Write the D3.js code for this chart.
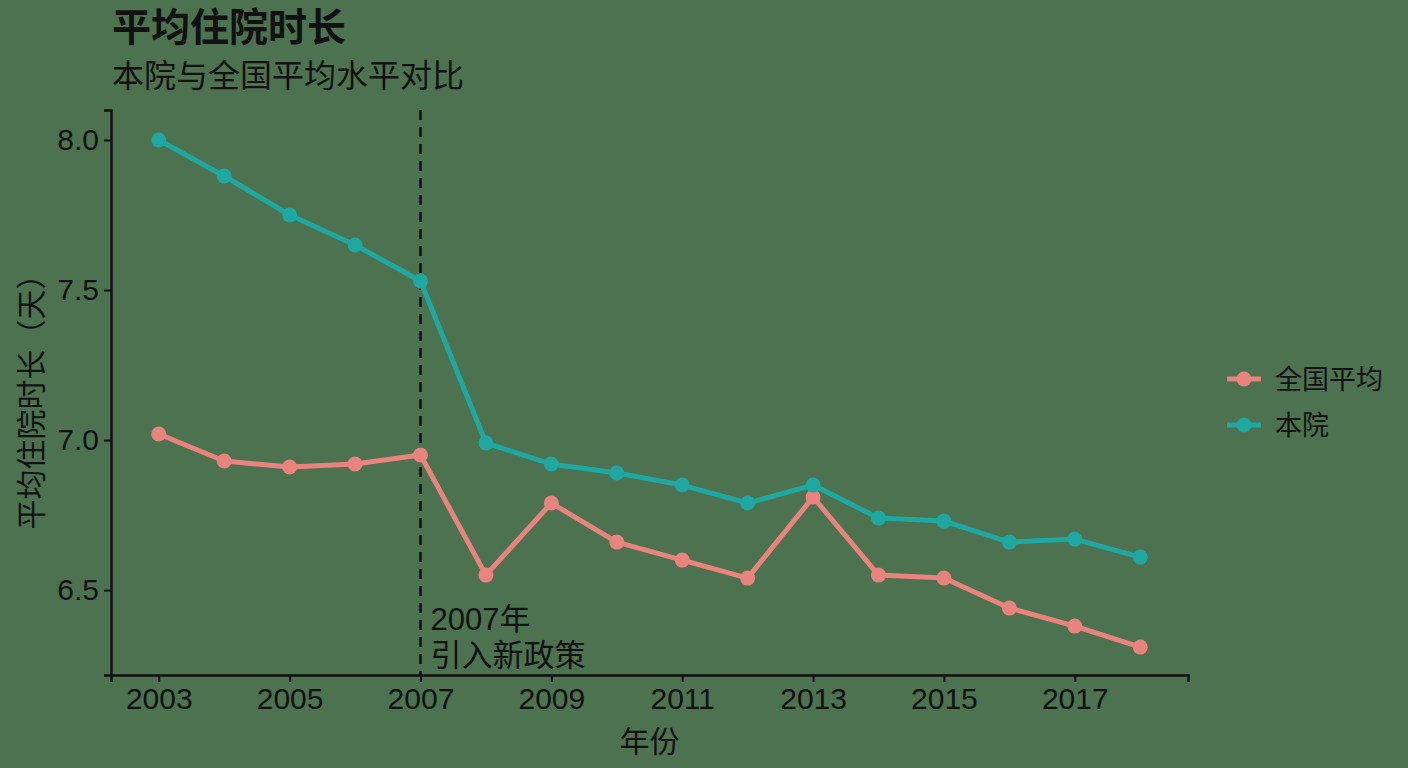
<!DOCTYPE html>
<html>
<head>
<meta charset="utf-8">
<script src="https://cdn.jsdelivr.net/npm/d3@7"></script>
<style>
  html, body { margin: 0; padding: 0; background: #4c7250; }
</style>
</head>
<body>
<div id="chart"></div>
<script>
// data
const years = [2003, 2004, 2005, 2006, 2007, 2008, 2009, 2010, 2011, 2012, 2013, 2014, 2015, 2016, 2017, 2018]
const hospital = [8.00, 7.88, 7.75, 7.65, 7.53, 6.99, 6.92, 6.89, 6.85, 6.79, 6.85, 6.74, 6.73, 6.66, 6.67, 6.61]
const national = [7.02, 6.93, 6.91, 6.92, 6.95, 6.55, 6.79, 6.66, 6.60, 6.54, 6.81, 6.55, 6.54, 6.44, 6.38, 6.31]
const xTicks = [2003, 2005, 2007, 2009, 2011, 2013, 2015, 2017]
const yTicks = [6.5, 7.0, 7.5, 8.0]
const seriesNames = ["全国平均", "本院"]
const policyYear = 2007

const width = 1408, height = 768
const margin = { top: 110, right: 220, bottom: 93, left: 111 }
const colors = { "全国平均": "#e8837e", "本院": "#1fa7a1" }
const font = '"Liberation Sans", "Noto Sans CJK SC", sans-serif'
const ink = '#111'

const series = [
    { name: "全国平均", values: national },
    { name: "本院", values: hospital }
]

const x = d3.scaleLinear()
    .domain([2002.27, 2018.73])
    .range([margin.left, width - margin.right])

const y = d3.scaleLinear()
    .domain([6.217, 8.1])
    .range([height - margin.bottom, margin.top])

const svg = d3.select('#chart')
    .append('svg')
    .attr('width', width)
    .attr('height', height)
    .attr('font-family', font)
    .attr('fill', ink)

svg.append('rect')
    .attr('width', width)
    .attr('height', height)
    .attr('fill', '#4c7250')

// titles
svg.append('text')
    .attr('x', 112).attr('y', 41)
    .attr('font-size', 39).attr('font-weight', 'bold')
    .text('平均住院时长')

svg.append('text')
    .attr('x', 112).attr('y', 87)
    .attr('font-size', 32)
    .text('本院与全国平均水平对比')

// policy marker
svg.append('line')
    .attr('x1', x(policyYear)).attr('x2', x(policyYear))
    .attr('y1', margin.top).attr('y2', height - margin.bottom)
    .attr('stroke', ink)
    .attr('stroke-width', 2.5)
    .attr('stroke-dasharray', '10,7')

const note = svg.append('text')
    .attr('font-size', 31)
note.append('tspan').attr('x', x(policyYear) + 10).attr('y', 630).text('2007年')
note.append('tspan').attr('x', x(policyYear) + 10).attr('y', 666).text('引入新政策')

// axes
const xAxis = svg.append('g')
    .attr('transform', `translate(0,${height - margin.bottom})`)
    .call(d3.axisBottom(x).tickValues(xTicks).tickFormat(d3.format('d')).tickSize(7).tickPadding(6))
xAxis.select('.domain').attr('stroke', ink).attr('stroke-width', 2.5)
xAxis.selectAll('.tick line').attr('stroke', ink).attr('stroke-width', 2)
xAxis.selectAll('.tick text').attr('font-size', 30).attr('fill', ink).attr('font-family', font)

const yAxis = svg.append('g')
    .attr('transform', `translate(${margin.left},0)`)
    .call(d3.axisLeft(y).tickValues(yTicks).tickFormat(d3.format('.1f')).tickSize(7).tickPadding(5))
yAxis.select('.domain').attr('stroke', ink).attr('stroke-width', 2.5)
yAxis.selectAll('.tick line').attr('stroke', ink).attr('stroke-width', 2)
yAxis.selectAll('.tick text').attr('font-size', 30).attr('fill', ink).attr('font-family', font)

svg.append('text')
    .attr('x', (margin.left + width - margin.right) / 2).attr('y', 752)
    .attr('text-anchor', 'middle')
    .attr('font-size', 30)
    .text('年份')

svg.append('text')
    .attr('transform', `translate(42,${(margin.top + height - margin.bottom) / 2 + 2}) rotate(-90)`)
    .attr('text-anchor', 'middle')
    .attr('font-size', 30)
    .text('平均住院时长（天）')

// lines and points
const line = d3.line()
    .x((d, i) => x(years[i]))
    .y(d => y(d))

series.forEach(s => {
    svg.append('path')
        .datum(s.values)
        .attr('fill', 'none')
        .attr('stroke', colors[s.name])
        .attr('stroke-width', 5)
        .attr('stroke-linejoin', 'round')
        .attr('d', line)

    svg.append('g')
        .selectAll('circle')
        .data(s.values)
        .join('circle')
        .attr('cx', (d, i) => x(years[i]))
        .attr('cy', d => y(d))
        .attr('r', 7.5)
        .attr('fill', colors[s.name])
})

// legend
const legend = svg.append('g')
    .selectAll('g')
    .data(seriesNames)
    .join('g')
    .attr('transform', (d, i) => `translate(1227,${379 + i * 46})`)

legend.append('line')
    .attr('x1', 0).attr('x2', 34)
    .attr('stroke', d => colors[d])
    .attr('stroke-width', 5)

legend.append('circle')
    .attr('cx', 17).attr('r', 7.5)
    .attr('fill', d => colors[d])

legend.append('text')
    .attr('x', 48).attr('dy', '0.36em')
    .attr('font-size', 27)
    .text(d => d)
</script>
</body>
</html>
